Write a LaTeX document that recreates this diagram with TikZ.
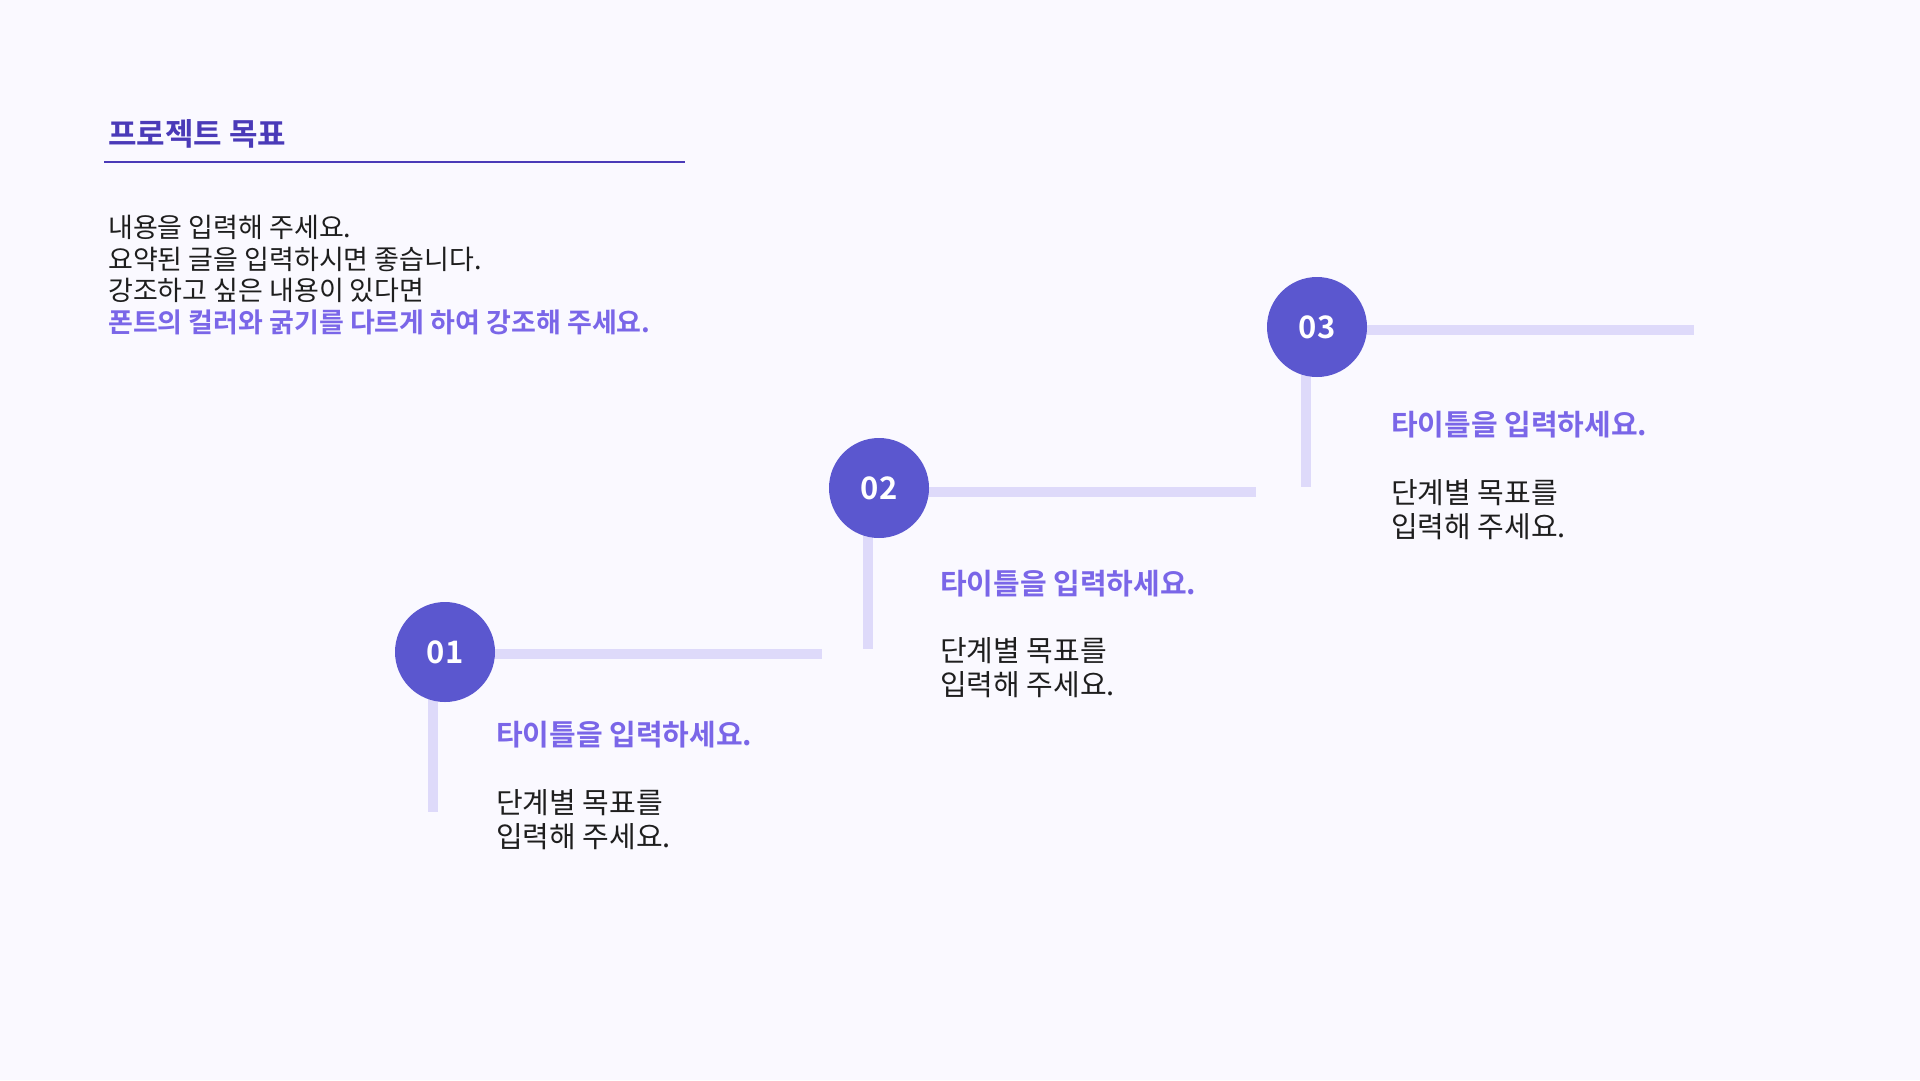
\documentclass[tikz,border=0pt]{standalone}
\usepackage{fontspec}
\setmainfont{Noto Sans CJK KR}
\newfontfamily\krbold{Noto Sans CJK KR Bold}
\definecolor{bgc}{HTML}{FAF9FF}
\definecolor{circc}{HTML}{5B57CF}
\definecolor{linec}{HTML}{DEDAFA}
\definecolor{accent}{HTML}{7A66E8}
\definecolor{headc}{HTML}{4A3AB8}
\definecolor{bodyc}{HTML}{1E1E1E}
\begin{document}
\begin{tikzpicture}[x=1pt,y=-1pt,
  stepcircle/.style={circle,fill=circc,minimum size=100pt,inner sep=0pt,text=white,font=\krbold\fontsize{31}{31}\selectfont},
  bar/.style={draw=linec,line width=10pt},
  steptitle/.style={anchor=west,inner sep=0pt,text=accent,font=\krbold\fontsize{29}{29}\selectfont},
  stepbody/.style={anchor=west,inner sep=0pt,align=left,text=bodyc,font=\fontsize{29}{34}\selectfont}]
\fill[bgc] (0,0) rectangle (1920,1080);
\useasboundingbox (0,0) rectangle (1920,1080);
% header
\node[anchor=west,inner sep=0pt,text=headc,font=\krbold\fontsize{31}{31}\selectfont] (head) at (108,133.5) {프로젝트 목표};
\coordinate (ulA) at (104,161.5);
\coordinate (ulB) at (685,161.5);
\draw[headc,line width=2pt] (ulA) -- (ulB);
\node[anchor=west,inner sep=0pt,align=left,text=bodyc,font=\fontsize{27}{31.7}\selectfont] (para) at (108,275)
  {내용을 입력해 주세요.\\요약된 글을 입력하시면 좋습니다.\\강조하고 싶은 내용이 있다면\\{\krbold\color{accent}폰트의 컬러와 굵기를 다르게 하여 강조해 주세요.}};
% step 1
\coordinate (h1) at (822,654);
\coordinate (v1a) at (433,652);
\coordinate (v1b) at (433,812);
\coordinate (h1a) at (445,654);
\draw[bar] (h1a) -- (h1);
\draw[bar] (v1a) -- (v1b);
\node[stepcircle] (c1) at (445,652) {01};
\node[steptitle] (t1) at (496,734.5) {타이틀을 입력하세요.};
\node[stepbody] (b1) at (496,819.5) {단계별 목표를\\입력해 주세요.};
% step 2
\coordinate (h2) at (1256,492);
\coordinate (h2a) at (879,492);
\coordinate (v2a) at (867.5,488);
\coordinate (v2b) at (867.5,649);
\draw[bar] (h2a) -- (h2);
\draw[bar] (v2a) -- (v2b);
\node[stepcircle] (c2) at (879,488) {02};
\node[steptitle] (t2) at (940,583.5) {타이틀을 입력하세요.};
\node[stepbody] (b2) at (940,667.5) {단계별 목표를\\입력해 주세요.};
% step 3
\coordinate (h3) at (1694,329.5);
\coordinate (h3a) at (1317,329.5);
\coordinate (v3a) at (1305.5,327);
\coordinate (v3b) at (1305.5,487);
\draw[bar] (h3a) -- (h3);
\draw[bar] (v3a) -- (v3b);
\node[stepcircle] (c3) at (1317,327) {03};
\node[steptitle] (t3) at (1391,424.5) {타이틀을 입력하세요.};
\node[stepbody] (b3) at (1391,509.5) {단계별 목표를\\입력해 주세요.};
\end{tikzpicture}
\end{document}
